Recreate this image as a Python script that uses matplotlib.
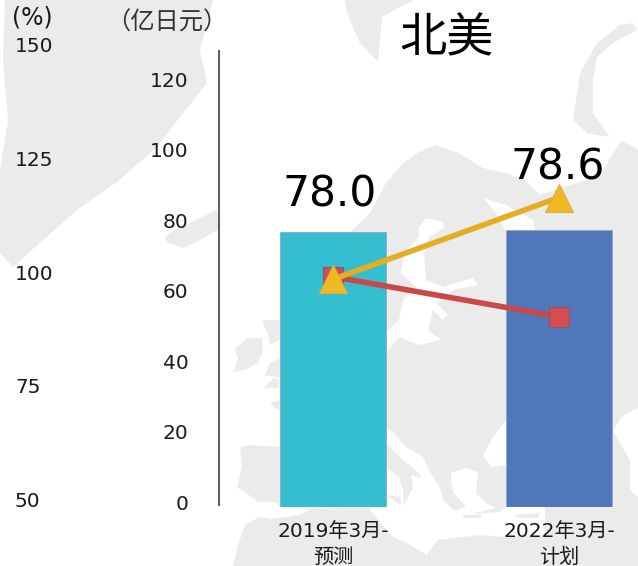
# -*- coding: utf-8 -*-
import matplotlib
matplotlib.use('Agg')
from matplotlib import pyplot as plt
from matplotlib.patches import Polygon
from matplotlib.transforms import ScaledTranslation

plt.rcParams['font.family'] = ['DejaVu Sans', 'Noto Sans CJK SC']

categories = ['2019年3月-\n预测', '2022年3月-\n计划']
bar_values = [78.0, 78.6]
bar_labels = ['78.0', '78.6']
bar_colors = ['#35BDD0', '#5177BB']
red_values = [100.6, 91.8]
gold_values = [100.0, 118.0]
left_ticks = [50, 75, 100, 125, 150]
right_ticks = [0, 20, 40, 60, 80, 100, 120]

# rough map shapes behind the chart, in pixels: land, then seas, then islands on the seas
land = [
    [(5, 0), (213, 0), (200, 50), (207, 83), (180, 117), (157, 147), (117, 182), (77, 210),
     (43, 240), (13, 267), (0, 253), (0, 170), (8, 120), (3, 60)],
    [(165, 237), (180, 227), (217, 210), (218, 230), (200, 240), (183, 248), (167, 242)],
    [(345, 0), (415, 0), (400, 7), (382, 17), (378, 62), (360, 43), (347, 13)],
    [(633, 23), (637, 30), (613, 43), (597, 57), (593, 80), (593, 113), (610, 137), (587, 133),
     (573, 120), (580, 73), (597, 43), (620, 25)],
    [(280, 300), (370, 213), (386, 183), (403, 163), (419, 152), (436, 145), (459, 153), (483, 168),
     (506, 173), (525, 180), (540, 195), (560, 188), (580, 182), (600, 175), (612, 155), (622, 140),
     (638, 150), (638, 566), (280, 566)],
    [(262, 320), (280, 320), (280, 340), (270, 345), (268, 335)],
    [(270, 363), (280, 358), (280, 378), (265, 375)],
    [(263, 390), (273, 378), (280, 380), (278, 388), (268, 388)],
    [(270, 403), (280, 400), (280, 410), (275, 408)],
    [(235, 348), (248, 338), (262, 338), (263, 350), (258, 363), (245, 370), (233, 372), (238, 360)],
    [(240, 448), (247, 445), (280, 447), (280, 507), (275, 502), (258, 502), (245, 492), (237, 487), (242, 467)],
    [(233, 566), (238, 545), (245, 525), (260, 517), (310, 505), (386, 505), (386, 566)],
]
seas = [
    [(419, 227), (426, 218), (443, 222), (444, 228), (429, 237), (424, 253), (426, 280), (443, 287),
     (473, 278), (478, 285), (453, 290), (436, 303), (448, 315), (443, 320), (433, 310), (428, 330),
     (441, 340), (419, 345), (399, 337), (386, 353), (386, 332), (399, 320), (403, 300), (416, 287),
     (401, 273), (404, 253), (419, 237)],
    [(483, 198), (506, 205), (533, 220), (535, 232), (506, 232), (501, 223), (495, 212)],
    [(506, 420), (493, 437), (483, 455), (491, 467), (506, 465)],
    [(638, 408), (623, 415), (613, 430), (620, 443), (630, 460), (630, 490), (638, 497)],
    [(451, 473), (466, 468), (478, 472), (476, 493), (486, 503), (496, 508), (470, 514), (456, 510),
     (466, 507), (454, 493), (451, 483)],
    [(280, 507), (370, 510), (386, 428), (393, 432), (406, 447), (423, 457), (429, 470), (441, 490),
     (443, 500), (453, 510), (470, 514), (500, 512), (506, 505), (545, 505), (545, 535), (503, 537),
     (480, 535), (437, 540), (427, 555), (407, 543), (393, 537), (370, 510), (310, 509), (300, 515),
     (270, 519), (260, 517), (265, 510)],
]
islands = [
    [(386, 443), (403, 460), (419, 473), (421, 478), (411, 475), (413, 487), (404, 505), (403, 490),
     (399, 477), (386, 467)],
    [(386, 495), (401, 497), (401, 505), (393, 500)],
    [(463, 515), (481, 515), (481, 518), (463, 518)],
    [(513, 515), (540, 513), (538, 518), (520, 518)],
]

fig = plt.figure(figsize=(6.38, 5.66), dpi=100)
W, H = 638, 566

bg = fig.add_axes([0, 0, 1, 1], zorder=0)
bg.set_xlim(0, W)
bg.set_ylim(H, 0)
bg.axis('off')
for shapes, col in [(land, '#EBEBEB'), (seas, 'white'), (islands, '#EBEBEB')]:
    for pts in shapes:
        bg.add_patch(Polygon(pts, closed=True, fc=col, ec='none'))

top, bottom = 51, 507
ax = fig.add_axes([219 / W, 1 - bottom / H, (W - 219) / W, (bottom - top) / H], zorder=2)
ax.patch.set_visible(False)
x = [0, 1]
ax.bar(x, bar_values, width=0.47, color=bar_colors, edgecolor='#8FA9C4', linewidth=0.6)
ax.set_xlim(-0.504, 1.35)
ax.set_ylim(0, 129.5)
for s in ['top', 'right', 'bottom']:
    ax.spines[s].set_visible(False)
ax.spines['left'].set_color('#5F5F5F')
ax.spines['left'].set_linewidth(1.5)
ax.spines['left'].set_bounds(0.6, 129.5)

shift = ScaledTranslation(0, 5 / 100, fig.dpi_scale_trans)
ax.set_yticks(right_ticks)
ax.tick_params(axis='y', length=0, pad=22, labelsize=14.5, labelcolor='#1A1A1A')
for t in ax.get_yticklabels():
    t.set_transform(t.get_transform() + shift)
ax.set_xticks(x)
ax.set_xticklabels(categories, fontsize=14.5, color='#1A1A1A', linespacing=1.45)
ax.tick_params(axis='x', length=0, pad=11)

ax.annotate(bar_labels[0], (x[0], bar_values[0]), xytext=(-2.5, 12), textcoords='offset points',
            ha='center', va='bottom', fontsize=30.5, color='black')
ax.annotate(bar_labels[1], (x[1], bar_values[1]), xytext=(-1, 30), textcoords='offset points',
            ha='center', va='bottom', fontsize=30.5, color='black')

line = ax.twinx()
line.set_zorder(3)
line.set_ylim(50, 150.2)
line.axis('off')
line.plot(x, red_values, color='#C94848', lw=4, marker='s', ms=14.5, mfc='#D44D4F', mec='#8A5570', mew=0.8)
line.plot(x, gold_values, color='#E3AE22', lw=4, marker='^', ms=19.5, mfc='#EFB923', mec='#D9B24A', mew=0.8)

for v in left_ticks:
    y = 501.5 - (v - 50) * 4.55
    fig.text(15 / W, 1 - y / H, str(v), fontsize=14.5, color='#1A1A1A', ha='left', va='center', zorder=4)
fig.text(12 / W, 1 - 17 / H, '(%)', fontsize=17, color='#1A1A1A', ha='left', va='center', zorder=4)
fig.text(166.5 / W, 1 - 23 / H, '（亿日元）', fontsize=17.5, color='#333333', ha='center', va='center',
         family=['Noto Sans CJK SC', 'DejaVu Sans'], zorder=4)
fig.text(447 / W, 1 - 39 / H, '北美', fontsize=34, color='black', ha='center', va='center',
         family=['Noto Sans CJK SC', 'DejaVu Sans'], weight='light', zorder=4)

fig.savefig('out.png', dpi=100)
